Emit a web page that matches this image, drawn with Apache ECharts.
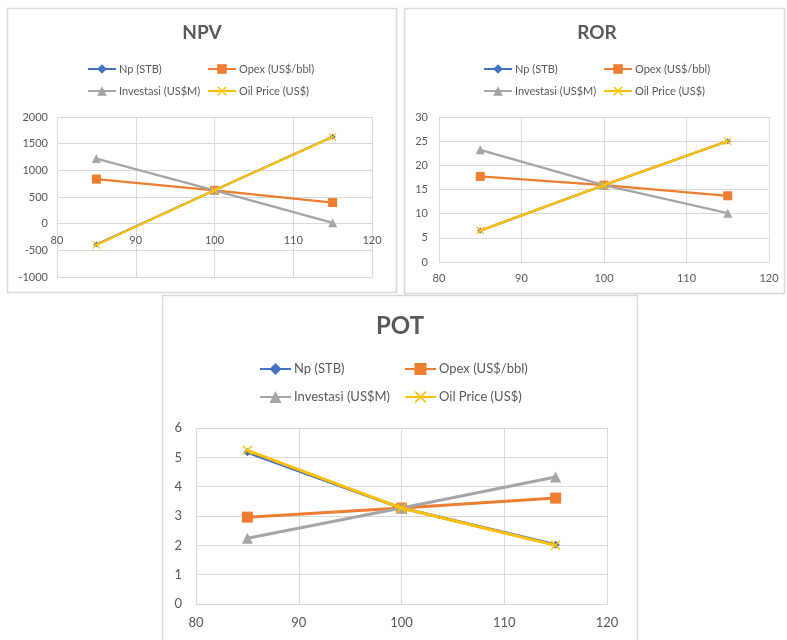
<!DOCTYPE html>
<html lang="en">
<head>
    <meta charset="UTF-8">
    <title>NPV ROR POT</title>
    <style>
        html, body { margin: 0; padding: 0; background: #fff; }
        .chart { width: 787px; height: 640px; }
    </style>
</head>
<body>
<div class="chart" id="showData"></div>
<script src="https://cdn.jsdelivr.net/npm/echarts@6/dist/echarts.min.js"></script>
<script>
    // sensitivity points (percent of base case)
    var xVals = [85, 100, 115];
    var seriesNames = ['Np (STB)', 'Opex (US$/bbl)', 'Investasi (US$M)', 'Oil Price (US$)'];

    // NPV
    var npvNp = [-390, 625, 1630];
    var npvOpex = [835, 625, 395];
    var npvInvest = [1220, 625, 15];
    var npvOil = [-400, 625, 1625];

    // ROR
    var rorNp = [6.5, 15.9, 25];
    var rorOpex = [17.7, 15.9, 13.7];
    var rorInvest = [23.2, 15.9, 10.1];
    var rorOil = [6.5, 15.9, 25];

    // POT
    var potNp = [5.17, 3.27, 2.02];
    var potOpex = [2.96, 3.27, 3.61];
    var potInvest = [2.24, 3.27, 4.33];
    var potOil = [5.24, 3.27, 2.0];

    var colors = ['#4472C4', '#ED7D31', '#A5A5A5', '#FFC000'];
    var xMark = 'path://M0,1 L1,0 L5,4 L9,0 L10,1 L6,5 L10,9 L9,10 L5,6 L1,10 L0,9 L4,5 Z';
    var symbols = ['diamond', 'rect', 'triangle', xMark];
    var font = 'Lato, "Liberation Sans", sans-serif';
    var txt = '#595959';
    var gridCol = '#d9d9d9';

    var grids = [
        {left: 57, top: 117, width: 315, height: 160},
        {left: 439, top: 117, width: 330, height: 145},
        {left: 196, top: 428, width: 411, height: 176}
    ];
    var yRanges = [[-1000, 2000, 500], [0, 30, 5], [0, 6, 1]];

    function pairs(arr) {
        var out = [];
        for (var i = 0; i < xVals.length; i++) {
            out.push([xVals[i], arr[i]]);
        }
        return out;
    }

    function makeSeries(idx, sets, lw, sizes) {
        var list = [];
        for (var i = 0; i < sets.length; i++) {
            list.push({
                name: seriesNames[i],
                type: 'line',
                xAxisIndex: idx,
                yAxisIndex: idx,
                data: pairs(sets[i]),
                symbol: symbols[i],
                symbolSize: sizes[i],
                showAllSymbol: true,
                color: colors[i],
                lineStyle: {width: lw, color: colors[i]},
                itemStyle: {color: colors[i]},
                animation: false,
                z: 2 + i
            });
        }
        return list;
    }

    // x axis sits on the y = 0 line (like Excel)
    function xAx(idx, fs, margin) {
        var r = yRanges[idx];
        var shift = -grids[idx].height * (0 - r[0]) / (r[1] - r[0]);
        return {
            type: 'value', gridIndex: idx, min: 80, max: 120, interval: 10,
            offset: shift,
            axisLine: {show: true, onZero: false, lineStyle: {color: gridCol, width: 1}},
            axisTick: {show: false},
            axisLabel: {color: txt, fontSize: fs, fontFamily: font, margin: margin},
            splitLine: {show: true, lineStyle: {color: gridCol, width: 1}}
        };
    }

    function yAx(idx, fs, margin) {
        var r = yRanges[idx];
        return {
            type: 'value', gridIndex: idx, min: r[0], max: r[1], interval: r[2],
            axisLine: {show: false},
            axisTick: {show: false},
            axisLabel: {color: txt, fontSize: fs, fontFamily: font, margin: margin,
                formatter: function (v) { return String(v); }},
            splitLine: {show: true, lineStyle: {color: gridCol, width: 1}}
        };
    }

    function legendCol(names, left, top, fs, iw, ih, lh, gap) {
        return {
            orient: 'vertical', left: left, top: top, padding: 0,
            itemWidth: iw, itemHeight: ih, itemGap: gap,
            data: names,
            textStyle: {color: txt, fontSize: fs, fontFamily: font, lineHeight: lh, padding: [0, 0, 0, -2]},
            selectedMode: false
        };
    }

    var col1 = [seriesNames[0], seriesNames[2]];
    var col2 = [seriesNames[1], seriesNames[3]];

    var option = {
        backgroundColor: '#fff',
        animation: false,
        title: [
            {text: 'NPV', left: 202, top: 23, textAlign: 'center', padding: 0,
                textStyle: {color: txt, fontSize: 19, fontWeight: 'bold', fontFamily: font}},
            {text: 'ROR', left: 597, top: 23, textAlign: 'center', padding: 0,
                textStyle: {color: txt, fontSize: 19, fontWeight: 'bold', fontFamily: font}},
            {text: 'POT', left: 400, top: 314, textAlign: 'center', padding: 0,
                textStyle: {color: txt, fontSize: 24, fontWeight: 'bold', fontFamily: font}}
        ],
        legend: [
            legendCol(col1, 87, 62, 11, 28, 12, 14, 8),
            legendCol(col2, 207, 62, 11, 28, 12, 14, 8),
            legendCol(col1, 483, 62, 11, 28, 12, 14, 8),
            legendCol(col2, 603, 62, 11, 28, 12, 14, 8),
            legendCol(col1, 259, 361, 13, 31, 15, 16, 12),
            legendCol(col2, 404, 361, 13, 31, 15, 16, 12)
        ],
        grid: grids,
        xAxis: [xAx(0, 11, 11), xAx(1, 11, 11), xAx(2, 13, 12)],
        yAxis: [yAx(0, 11, 9), yAx(1, 11, 11), yAx(2, 13, 14)],
        series: []
            .concat(makeSeries(0, [npvNp, npvOpex, npvInvest, npvOil], 2.25, [6, 9, 9, 8]))
            .concat(makeSeries(1, [rorNp, rorOpex, rorInvest, rorOil], 2.25, [6, 9, 9, 8]))
            .concat(makeSeries(2, [potNp, potOpex, potInvest, potOil], 3, [8, 11, 11, 10])),
        graphic: [
            {type: 'rect', shape: {x: 7.5, y: 8.5, width: 389, height: 284},
                style: {fill: 'none', stroke: gridCol, lineWidth: 1.5}, silent: true},
            {type: 'rect', shape: {x: 404.5, y: 8.5, width: 380, height: 285},
                style: {fill: 'none', stroke: gridCol, lineWidth: 1.5}, silent: true},
            {type: 'rect', shape: {x: 162.5, y: 295.5, width: 475, height: 360},
                style: {fill: 'none', stroke: gridCol, lineWidth: 1.5}, silent: true}
        ]
    };

    var mychart = echarts.init(document.getElementById('showData'));
    mychart.setOption(option);
</script>
</body>
</html>
